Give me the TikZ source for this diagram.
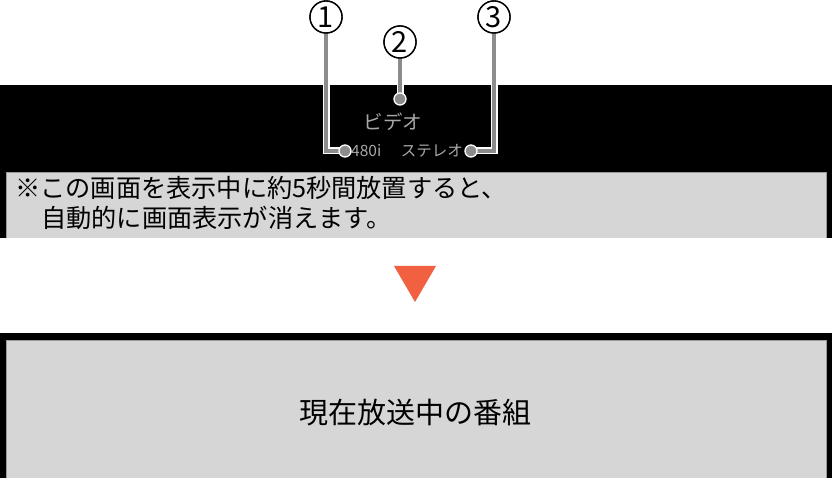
\documentclass[tikz,border=0pt]{standalone}
\usepackage{fontspec}
\setmainfont{Noto Sans CJK JP}
\definecolor{boxgray}{HTML}{D6D6D6}
\definecolor{edgegray}{HTML}{9A9A9A}
\definecolor{leadgray}{HTML}{8C8C8C}
\definecolor{txtgray}{HTML}{A8A8A8}
\definecolor{arrowred}{HTML}{F26042}
\begin{document}
\begin{tikzpicture}[x=1pt,y=-1pt,
  leader/.style={draw=leadgray,line width=4pt,preaction={draw=white,line width=7pt}},
  dotnode/.style={circle,fill=leadgray,draw=white,line width=1.3pt,minimum size=12pt,inner sep=0pt},
  numnode/.style={circle,draw=black,fill=white,line width=1.4pt,minimum size=32pt,inner sep=0pt,font=\fontsize{29}{29}\selectfont},
  notetext/.style={anchor=west,inner sep=0pt,font=\fontsize{25.2}{25}\selectfont},
  osdtext/.style={inner sep=0pt,text=txtgray}
]
\useasboundingbox (0,0) rectangle (832,478);
% top screen
\fill[black] (0,85) rectangle (832,238);
\fill[boxgray] (6,172) rectangle (826,238);
\draw[edgegray,line width=0.8pt] (6,238) -- (6,172) -- (826,172) -- (826,238);
% bottom screen
\fill[black] (0,333) rectangle (832,480);
\fill[boxgray] (6,340) rectangle (826,480);
\draw[edgegray,line width=0.8pt] (6,480) -- (6,340) -- (826,340) -- (826,480);
% arrow triangle
\fill[arrowred] (394,266) -- (436,266) -- (415,302) -- cycle;
% OSD texts
\node[osdtext,font=\fontsize{19.5}{20}\selectfont] (video) at (393,122) {ビデオ};
\node[osdtext,anchor=west,font=\fontsize{15.5}{16}\selectfont] (res) at (351,151) {480i};
\node[osdtext,anchor=east,font=\fontsize{15.5}{16}\selectfont] (audio) at (463,151) {ステレオ};
% circled numbers
\node[numnode] (n1) at (326,17) {};
\node[numnode] (n2) at (400,42) {};
\node[numnode] (n3) at (494,17) {};
% dots
\coordinate (p1) at (345,151);
\coordinate (p2) at (400,99);
\coordinate (p3) at (471,151);
\draw[leader] (n1.south) |- (p1);
\draw[leader] (n2.south) -- (p2);
\draw[leader] (n3.south) |- (p3);
\node[dotnode] (d1) at (p1) {};
\node[dotnode] (d2) at (p2) {};
\node[dotnode] (d3) at (p3) {};
\node[numnode] (m1) at (n1) {1};
\node[numnode] (m2) at (n2) {2};
\node[numnode] (m3) at (n3) {3};
% note
\node[notetext] (note1) at (15,188) {※この画面を表示中に約5秒間放置すると、};
\node[notetext] (note2) at (41,218) {自動的に画面表示が消えます。};
% bottom text
\node[inner sep=0pt,font=\fontsize{29}{29}\selectfont] (prog) at (415,413) {現在放送中の番組};
\end{tikzpicture}
\end{document}
